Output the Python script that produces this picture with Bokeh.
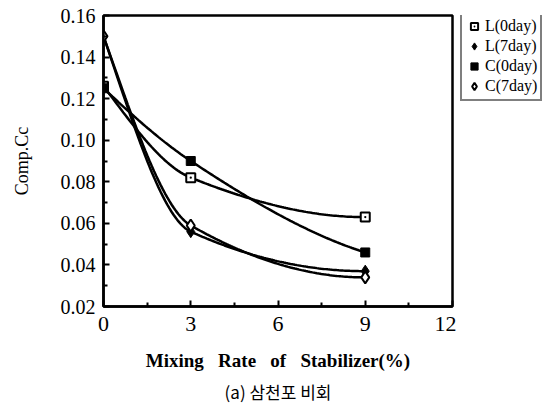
import numpy as np
from bokeh.plotting import figure
from bokeh.layouts import row
from bokeh.models import (FixedTicker, Legend, LegendItem, Title, Range1d,
                          CustomJSTickFormatter)
from bokeh.embed import file_html
from bokeh.resources import INLINE

# Compression index vs. stabilizer mixing rate
mixing_rate = [0, 3, 9]
l_0day = [0.126, 0.082, 0.063]
l_7day = [0.150, 0.056, 0.037]
c_0day = [0.125, 0.090, 0.046]
c_7day = [0.150, 0.059, 0.034]

x_ticks = [0, 3, 6, 9, 12]
y_ticks = [0.02, 0.04, 0.06, 0.08, 0.10, 0.12, 0.14, 0.16]

SERIF = "Liberation Serif"


def pchip(xs, ys, n=120):
    """Monotone cubic Hermite curve through the points (Fritsch-Carlson)."""
    x = np.asarray(xs, float)
    y = np.asarray(ys, float)
    h = np.diff(x)
    d = np.diff(y) / h
    m = np.zeros_like(y)
    for k in range(1, len(x) - 1):
        if d[k - 1] * d[k] > 0:
            w1 = 2 * h[k] + h[k - 1]
            w2 = h[k] + 2 * h[k - 1]
            m[k] = (w1 + w2) / (w1 / d[k - 1] + w2 / d[k])

    def edge(h0, h1, d0, d1):
        s = ((2 * h0 + h1) * d0 - h0 * d1) / (h0 + h1)
        if np.sign(s) != np.sign(d0):
            return 0.0
        if np.sign(d0) != np.sign(d1) and abs(s) > abs(3 * d0):
            return 3 * d0
        return s

    m[0] = edge(h[0], h[1], d[0], d[1])
    m[-1] = edge(h[-1], h[-2], d[-1], d[-2])
    xx = np.linspace(x[0], x[-1], n)
    idx = np.clip(np.searchsorted(x, xx, side="right") - 1, 0, len(x) - 2)
    t = (xx - x[idx]) / h[idx]
    h00 = 2 * t**3 - 3 * t**2 + 1
    h10 = t**3 - 2 * t**2 + t
    h01 = -2 * t**3 + 3 * t**2
    h11 = t**3 - t**2
    yy = (h00 * y[idx] + h10 * h[idx] * m[idx]
          + h01 * y[idx + 1] + h11 * h[idx] * m[idx + 1])
    return xx, yy


p = figure(width=456, height=406, output_backend="svg", toolbar_location=None,
           x_range=Range1d(0, 12), y_range=Range1d(0.02, 0.16),
           min_border_left=103, min_border_right=4,
           min_border_top=15, min_border_bottom=40)

p.background_fill_color = "white"
p.border_fill_color = "white"
p.outline_line_color = "black"
p.outline_line_width = 2.5
p.xgrid.visible = False
p.ygrid.visible = False

# legend panel beside the main plot
lg = figure(width=92, height=406, output_backend="svg", toolbar_location=None,
            x_axis_location=None, y_axis_location=None,
            min_border=0, outline_line_color=None,
            x_range=Range1d(0, 1), y_range=Range1d(0, 1))
lg.xgrid.visible = False
lg.ygrid.visible = False

series = [
    ("L(0day)", l_0day, dict(marker="square_dot", size=9, fill_color="white",
                             line_color="black", line_width=2)),
    ("L(7day)", l_7day, dict(marker="diamond", size=12, fill_color="black",
                             line_color="black", line_width=1)),
    ("C(0day)", c_0day, dict(marker="square", size=9, fill_color="black",
                             line_color="black", line_width=1)),
    ("C(7day)", c_7day, dict(marker="diamond", size=12, fill_color="white",
                             line_color="black", line_width=2)),
]

items = []
for name, ys, mk in series:
    cx, cy = pchip(mixing_rate, ys)
    p.line(cx, cy, line_color="black", line_width=2.5)
    p.scatter(mixing_rate, ys, **mk)
    # key glyph for the legend, kept outside the legend panel's range
    key = lg.scatter(x=[-5], y=[-5], **mk)
    items.append(LegendItem(label=name, renderers=[key]))

# axes
for ax in (p.xaxis[0], p.yaxis[0]):
    ax.axis_line_width = 2.5
    ax.axis_line_color = "black"
    ax.major_tick_in = 6
    ax.major_tick_out = 0
    ax.minor_tick_in = 4
    ax.minor_tick_out = 0
    ax.major_tick_line_width = 2
    ax.minor_tick_line_width = 2
    ax.major_label_text_font = SERIF
    ax.major_label_text_color = "black"
    ax.axis_label_text_font = SERIF
    ax.axis_label_text_color = "black"
    ax.axis_label_text_font_style = "normal"

p.xaxis.ticker = FixedTicker(ticks=x_ticks, minor_ticks=[1.5, 4.5, 7.5, 10.5])
p.yaxis.ticker = FixedTicker(ticks=y_ticks,
                             minor_ticks=[0.03, 0.05, 0.07, 0.09, 0.11, 0.13, 0.15])
p.yaxis.formatter = CustomJSTickFormatter(code="return tick.toFixed(2);")
p.xaxis.formatter = CustomJSTickFormatter(code="return tick.toFixed(0);")

p.xaxis.major_label_text_font_size = "22px"
p.yaxis.major_label_text_font_size = "20px"
p.xaxis.major_label_standoff = 10
p.yaxis.major_label_standoff = 8

p.xaxis.axis_label = "Mixing\u00a0\u00a0\u00a0Rate\u00a0\u00a0\u00a0of\u00a0\u00a0\u00a0Stabilizer(%)"
p.xaxis.axis_label_text_font_size = "19px"
p.xaxis.axis_label_text_font_style = "bold"
p.xaxis.axis_label_standoff = 16

p.yaxis.axis_label = "Comp.Cc"
p.yaxis.axis_label_text_font_size = "18px"
p.yaxis.axis_label_standoff = 26

caption = Title(text="(a) 삼천포 비회", align="center",
                text_font="Noto Sans CJK KR", text_font_size="17px",
                text_font_style="normal", text_color="black", standoff=6)
p.add_layout(caption, "below")

legend = Legend(items=items, location=(4, 205), orientation="vertical",
                label_text_font=SERIF, label_text_font_size="16px",
                label_text_color="black", label_height=17, glyph_height=20,
                glyph_width=18, spacing=0, padding=3, margin=0,
                label_standoff=2,
                border_line_color="black", border_line_width=2,
                background_fill_color="white", background_fill_alpha=1)
lg.add_layout(legend, "center")

layout = row(p, lg, spacing=0)
open("out.html", "w").write(file_html(layout, INLINE))
